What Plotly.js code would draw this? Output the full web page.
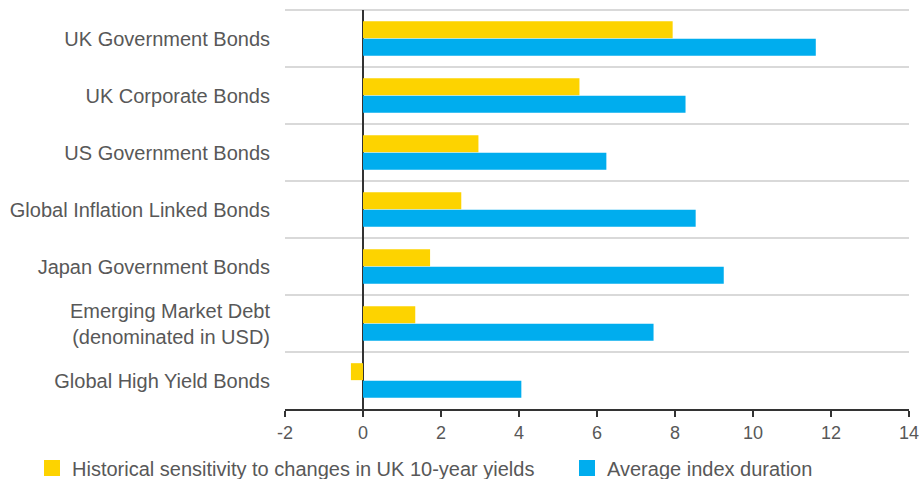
<!DOCTYPE html>
<html>
<head>
<meta charset="utf-8">
<script src="https://cdn.plot.ly/plotly-3.0.1.min.js"></script>
<style>html,body{margin:0;padding:0;background:#fff;}#chart{width:919px;height:479px;}</style>
</head>
<body>
<div id="chart"></div>
<script>
const categories = [
  "UK Government Bonds",
  "UK Corporate Bonds",
  "US Government Bonds",
  "Global Inflation Linked Bonds",
  "Japan Government Bonds",
  "Emerging Market Debt<br>(denominated in USD)",
  "Global High Yield Bonds"
];
const sensitivity = [7.94, 5.55, 2.96, 2.52, 1.72, 1.34, -0.31];
const duration = [11.61, 8.27, 6.24, 8.53, 9.25, 7.45, 4.06];
const seriesNames = ["Historical sensitivity to changes in UK 10-year yields", "Average index duration"];
const seriesColors = ["#FDD300", "#00ADEE"];
const xTicks = [-2, 0, 2, 4, 6, 8, 10, 12, 14];

const fontFam = "Liberation Sans, Arial, sans-serif";
const textColor = "#585858";

const traces = [
  {type: "bar", orientation: "h", name: seriesNames[0], y: categories, x: sensitivity,
   marker: {color: seriesColors[0]}, hoverinfo: "x+y", showlegend: false},
  {type: "bar", orientation: "h", name: seriesNames[1], y: categories, x: duration,
   marker: {color: seriesColors[1]}, hoverinfo: "x+y", showlegend: false},
  // legend entries (square swatches)
  {type: "scatter", mode: "markers", name: seriesNames[0], x: [null], y: [null],
   marker: {symbol: "square", size: 16, color: seriesColors[0]}, legend: "legend", showlegend: true},
  {type: "scatter", mode: "markers", name: seriesNames[1], x: [null], y: [null],
   marker: {symbol: "square", size: 16, color: seriesColors[1]}, legend: "legend2", showlegend: true}
];

const legendCommon = {orientation: "h", xref: "container", yref: "container", y: 0.023,
  xanchor: "left", yanchor: "middle", font: {size: 20, color: textColor}, bgcolor: "rgba(0,0,0,0)"};

const layout = {
  width: 919, height: 479,
  margin: {l: 285, r: 10, t: 10, b: 70},
  paper_bgcolor: "#fff", plot_bgcolor: "#fff",
  font: {family: fontFam, size: 20, color: textColor},
  barmode: "group",
  bargap: 0.38,
  bargroupgap: 0.04,
  showlegend: true,
  legend: Object.assign({}, legendCommon, {x: 32 / 919}),
  legend2: Object.assign({}, legendCommon, {x: 567 / 919}),
  xaxis: {range: [-2, 14], tickvals: xTicks, ticktext: xTicks.map(String),
          showgrid: false, zeroline: true, zerolinecolor: "#333", zerolinewidth: 2,
          showline: true, linecolor: "#333", linewidth: 2,
          ticks: "outside", ticklen: 6, tickwidth: 2, tickcolor: "#333",
          ticklabeloverflow: "allow",
          tickfont: {size: 18, color: textColor}, fixedrange: true},
  yaxis: {type: "category", autorange: "reversed", tickson: "boundaries",
          showgrid: true, gridcolor: "#d9d9d9", gridwidth: 2,
          ticks: "", showline: false, zeroline: false,
          ticklabelstandoff: 14,
          tickfont: {size: 20, color: textColor}, fixedrange: true},
  shapes: [
    {type: "line", xref: "paper", yref: "paper", x0: 0, x1: 1, y0: 1, y1: 1,
     line: {color: "#d9d9d9", width: 2}, layer: "below"}
  ]
};

Plotly.newPlot("chart", traces, layout, {displayModeBar: false, staticPlot: true});
</script>
</body>
</html>
